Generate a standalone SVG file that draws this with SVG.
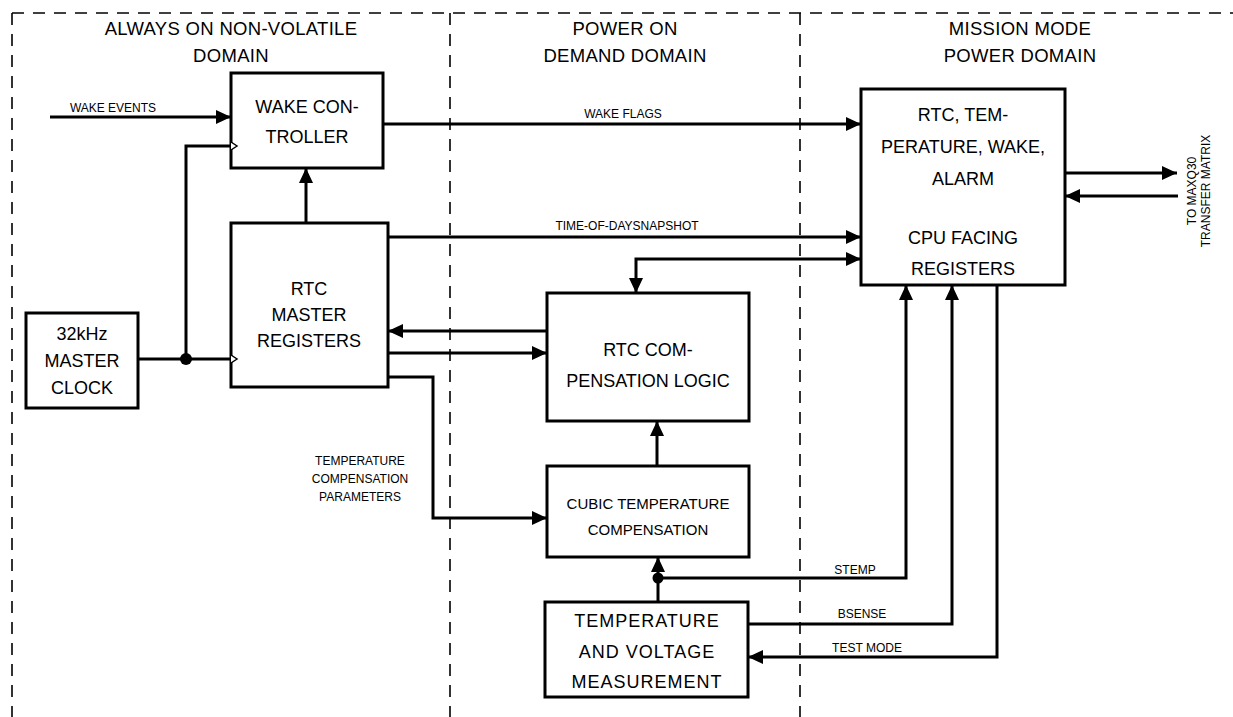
<svg xmlns="http://www.w3.org/2000/svg" width="1233" height="717" viewBox="0 0 1233 717">
<defs>
<style>
.dash{stroke:#000;stroke-width:1.6;stroke-dasharray:12 9;fill:none}
.box{fill:#fff;stroke:#000;stroke-width:3}
.ln{fill:none;stroke:#000;stroke-width:3;stroke-linejoin:miter}
.arr{marker-end:url(#ah)}
.t{font-family:"Liberation Sans",Arial,sans-serif;font-size:18px;fill:#000;text-anchor:middle}
.h{font-family:"Liberation Sans",Arial,sans-serif;font-size:18.5px;letter-spacing:0.3px;fill:#000;text-anchor:middle}
.s{font-family:"Liberation Sans",Arial,sans-serif;font-size:12px;fill:#000;text-anchor:middle}
.clk{fill:#fff;stroke:#000;stroke-width:1.5}
</style>
<marker id="ah" markerUnits="userSpaceOnUse" markerWidth="15" markerHeight="14" refX="15" refY="7" orient="auto-start-reverse">
<path d="M0,0 L15,7 L0,14 z" fill="#000"/>
</marker>
</defs>
<rect width="1233" height="717" fill="#fff"/>
<g id="domains">
<path class="dash" d="M12,13 H1233 M12,13 V717 M450,13 V717 M800,13 V717"/>
<text class="h" x="231" y="35">ALWAYS ON NON-VOLATILE</text>
<text class="h" x="231" y="62">DOMAIN</text>
<text class="h" x="625" y="35">POWER ON</text>
<text class="h" x="625" y="62">DEMAND DOMAIN</text>
<text class="h" x="1020" y="35">MISSION MODE</text>
<text class="h" x="1020" y="62">POWER DOMAIN</text>
</g>
<g id="connectors">
<path class="ln arr" d="M50,117 H231"/>
<text class="s" x="113" y="112">WAKE EVENTS</text>
<path class="ln" d="M186,359 V146 H231"/>
<path class="ln" d="M138,359 H231"/>
<circle cx="186" cy="359" r="6" fill="#000"/>
<path class="ln arr" d="M306,223 V168"/>
<path class="ln arr" d="M383,124 H861"/>
<text class="s" x="623" y="118">WAKE FLAGS</text>
<path class="ln arr" d="M388,237 H861"/>
<text class="s" x="627" y="230">TIME-OF-DAYSNAPSHOT</text>
<path class="ln arr" d="M636,293 V259 H861" marker-start="url(#ah)"/>
<path class="ln arr" d="M547,331 H388"/>
<path class="ln arr" d="M388,353 H547"/>
<path class="ln arr" d="M388,377 H433 V518 H547"/>
<text class="s" x="360" y="465">TEMPERATURE</text>
<text class="s" x="360" y="483">COMPENSATION</text>
<text class="s" x="360" y="501">PARAMETERS</text>
<path class="ln arr" d="M657,466 V421"/>
<path class="ln arr" d="M658,602 V557"/>
<path class="ln arr" d="M658,578 H906 V285"/>
<circle cx="658" cy="578" r="5.5" fill="#000"/>
<text class="s" x="855" y="574">STEMP</text>
<path class="ln arr" d="M748,624 H952 V285"/>
<text class="s" x="862" y="618">BSENSE</text>
<path class="ln arr" d="M997,285 V657 H748"/>
<text class="s" x="867" y="652">TEST MODE</text>
<path class="ln arr" d="M1065,173 H1177"/>
<path class="ln arr" d="M1178,196 H1065"/>
<text class="s" transform="translate(1196,191) rotate(-90)" x="0" y="0">TO MAXQ30</text>
<text class="s" transform="translate(1210,191) rotate(-90)" x="0" y="0">TRANSFER MATRIX</text>
</g>
<g id="wake-controller">
<rect class="box" x="231" y="73" width="152" height="95"/>
<path class="clk" d="M231,142 L237,146 L231,150"/>
<text class="t" x="307" y="113">WAKE CON-</text>
<text class="t" x="307" y="143">TROLLER</text>
</g>
<g id="master-clock">
<rect class="box" x="26" y="313" width="112" height="95"/>
<text class="t" x="82" y="340">32kHz</text>
<text class="t" x="82" y="367">MASTER</text>
<text class="t" x="82" y="394">CLOCK</text>
</g>
<g id="rtc-master">
<rect class="box" x="231" y="223" width="157" height="164"/>
<path class="clk" d="M231,355 L237,359 L231,363"/>
<text class="t" x="309" y="295">RTC</text>
<text class="t" x="309" y="321">MASTER</text>
<text class="t" x="309" y="347">REGISTERS</text>
</g>
<g id="rtc-facing">
<rect class="box" x="861" y="89" width="204" height="196"/>
<text class="t" x="963" y="121">RTC, TEM-</text>
<text class="t" x="963" y="153">PERATURE, WAKE,</text>
<text class="t" x="963" y="185">ALARM</text>
<text class="t" x="963" y="244">CPU FACING</text>
<text class="t" x="963" y="275">REGISTERS</text>
</g>
<g id="rtc-comp">
<rect class="box" x="547" y="293" width="202" height="128"/>
<text class="t" x="648" y="356">RTC COM-</text>
<text class="t" x="648" y="387">PENSATION LOGIC</text>
</g>
<g id="cubic">
<rect class="box" x="547" y="466" width="202" height="91"/>
<text class="t" x="648" y="509" style="font-size:15px">CUBIC TEMPERATURE</text>
<text class="t" x="648" y="535" style="font-size:15px">COMPENSATION</text>
</g>
<g id="measurement">
<rect class="box" x="545" y="602" width="203" height="95"/>
<text class="t" x="647" y="627" style="letter-spacing:1px">TEMPERATURE</text>
<text class="t" x="647" y="658" style="letter-spacing:1px">AND VOLTAGE</text>
<text class="t" x="647" y="688" style="letter-spacing:1px">MEASUREMENT</text>
</g>
</svg>
